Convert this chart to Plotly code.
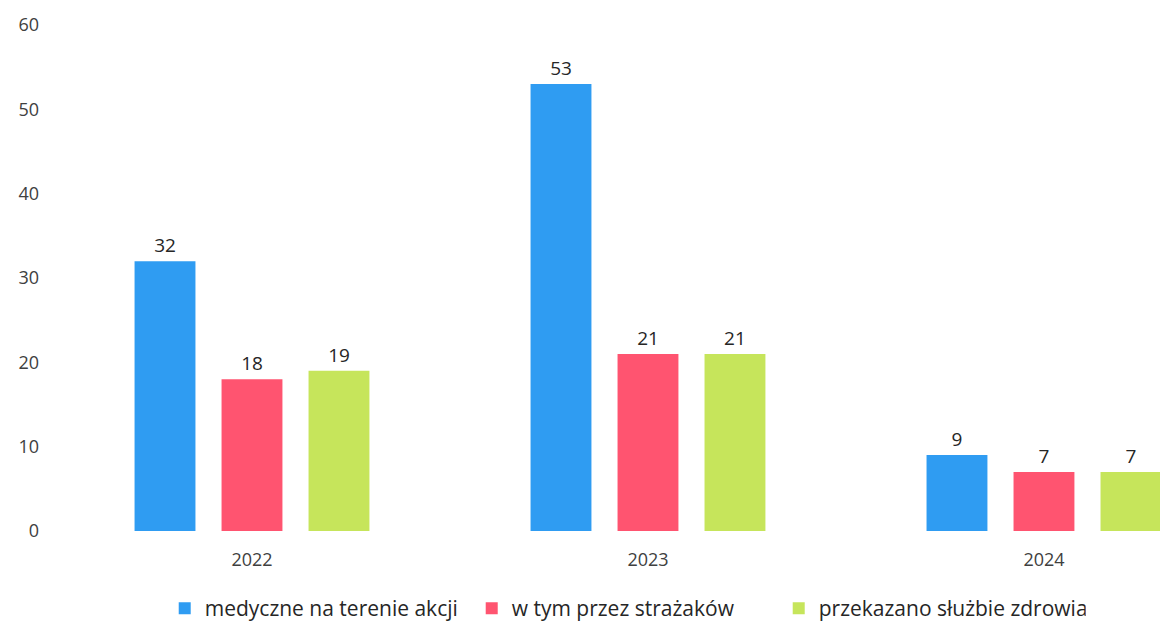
import plotly.graph_objects as go

years = ["2022", "2023", "2024"]
series_names = ["medyczne na terenie akcji", "w tym przez strażaków", "przekazano służbie zdrowia"]
medyczne = [32, 53, 9]
strazacy = [18, 21, 7]
przekazano = [19, 21, 7]
colors = ["#2F9CF2", "#FF5470", "#C6E55B"]

x_pos = list(range(len(years)))
fig = go.Figure()
for name, vals, col in zip(series_names, [medyczne, strazacy, przekazano], colors):
    fig.add_trace(go.Bar(
        x=x_pos, y=vals, name=name, marker=dict(color=col, line=dict(width=0)),
        text=[str(v) for v in vals], textposition="outside", cliponaxis=False,
        textfont=dict(size=19, color="#262626"),
    ))

fig.update_layout(
    width=1160, height=629,
    margin=dict(l=54, r=0, t=25, b=98),
    paper_bgcolor="white", plot_bgcolor="white",
    font=dict(family="Open Sans, Liberation Sans, sans-serif", color="#404040", size=18),
    barmode="group", bargap=0.341, bargroupgap=0.3,
    showlegend=True,
    legend=dict(orientation="h", xref="container", yref="container", x=0.142, y=0.0,
                xanchor="left", yanchor="bottom", entrywidth=262,
                font=dict(size=21, color="#262626"), itemwidth=30),
    xaxis=dict(tickmode="array", tickvals=x_pos, ticktext=years, range=[-0.5, 2.293],
               showgrid=False, zeroline=False, showline=False, ticks="",
               ticklabelstandoff=16, tickfont=dict(size=18, color="#404040")),
    yaxis=dict(range=[0, 60], tickvals=[0, 10, 20, 30, 40, 50, 60], showgrid=False,
               zeroline=False, showline=False, ticks="", ticklabelstandoff=14,
               tickfont=dict(size=18, color="#404040")),
)
fig.write_html("out.html", config={"displayModeBar": False},
               post_script="document.body.style.margin='0';document.body.style.overflow='hidden';")
